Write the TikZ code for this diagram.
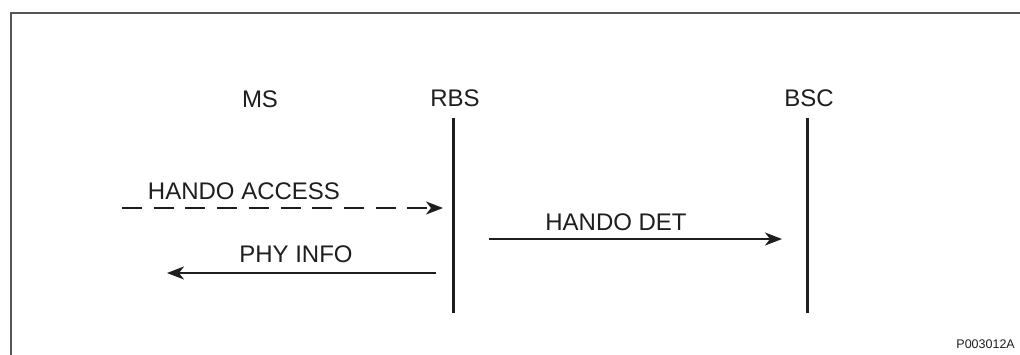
\documentclass[tikz,border=0pt]{standalone}
\usepackage{fontspec}
\setmainfont{Liberation Sans}
\usetikzlibrary{arrows.meta}
\definecolor{ink}{HTML}{1E1E1E}
\definecolor{framegray}{HTML}{555555}
\begin{document}
\begin{tikzpicture}[x=1pt,y=-1pt,
  lbl/.style={anchor=base,inner sep=0pt,text=ink,font=\fontsize{24}{28}\selectfont},
  small/.style={anchor=base east,inner sep=0pt,text=ink,font=\fontsize{12.5}{14}\selectfont},
  lifeline/.style={draw=ink,line width=3pt},
  msg/.style={draw=ink,line width=2.1pt,-{Stealth[length=17pt,width=13pt,inset=5pt]}},
  dmsg/.style={msg,dash pattern=on 20pt off 11.7pt}]
\useasboundingbox (0,0) rectangle (1020,354);
% frame (only left and top edges are visible)
\coordinate (fbl) at (11,360);
\coordinate (ftl) at (11,13);
\coordinate (ftr) at (1026,13);
\draw[framegray,line width=1.2pt] (fbl) -- (ftl) -- (ftr);
% entity labels
\node[lbl] (ms)  at (260,107) {MS};
\node[lbl] (rbs) at (455,106) {RBS};
\node[lbl] (bsc) at (809,106) {BSC};
% lifelines
\coordinate (rbsT) at (453,118);
\coordinate (rbsB) at (453,313);
\coordinate (bscT) at (807,118);
\coordinate (bscB) at (807,313);
\draw[lifeline] (rbsT) -- (rbsB);
\draw[lifeline] (bscT) -- (bscB);
% messages
\coordinate (haS) at (122,208);
\coordinate (haE) at (443,208);
\draw[dmsg] (haS) -- (haE);
\node[lbl] (haL) at (244,199) {HANDO ACCESS};
\coordinate (hdS) at (489,239);
\coordinate (hdE) at (782,239);
\draw[msg] (hdS) -- (hdE);
\node[lbl] (hdL) at (616,230) {HANDO DET};
\coordinate (piS) at (436,273);
\coordinate (piE) at (167,273);
\draw[msg] (piS) -- (piE);
\node[lbl] (piL) at (296,262) {PHY INFO};
% figure id
\node[small] (fid) at (1015,348) {P003012A};
\end{tikzpicture}
\end{document}
